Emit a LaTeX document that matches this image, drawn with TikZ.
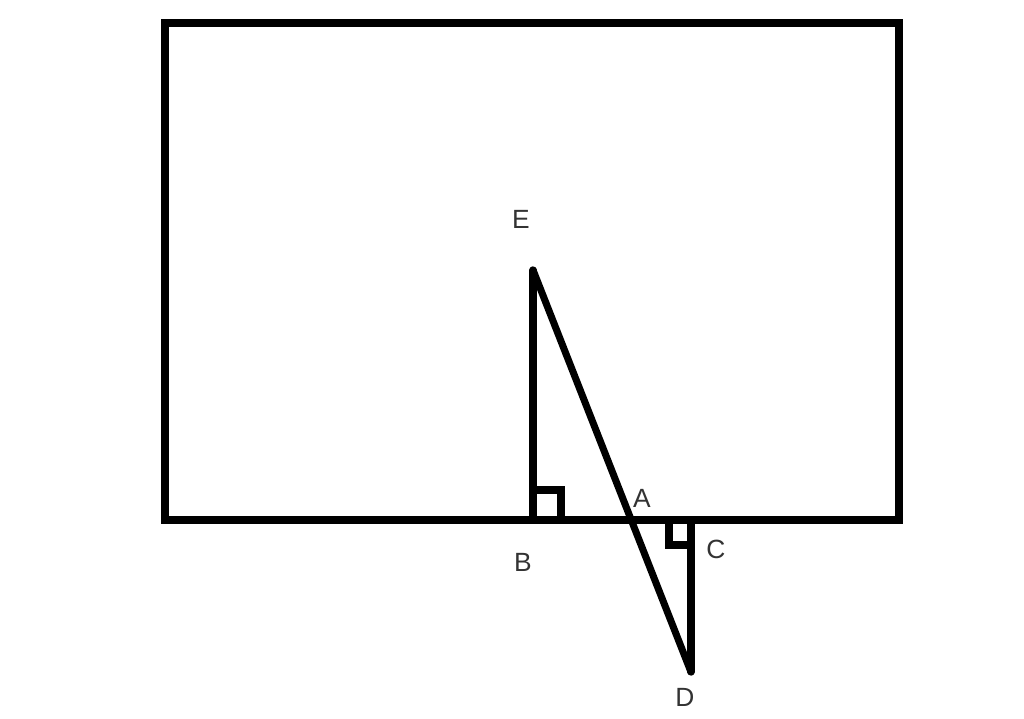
\documentclass[tikz,border=0pt]{standalone}
\usepackage{fontspec}
\setmainfont{Liberation Sans}
\usetikzlibrary{positioning}

\begin{document}
\begin{tikzpicture}[x=0.02cm, y=-0.02cm]


\tikzstyle{line_style} = [draw=black, line width=4pt]
\tikzstyle{label_style} = [font=\fontsize{15}{18}\selectfont, text=black!80, inner sep=0pt]

\useasboundingbox (0,0) rectangle (1024,719);

\draw[line_style, line join=miter] (165,23) rectangle (899,520);

\coordinate (pE) at (533,270);
\coordinate (pB) at (533,520);
\coordinate (pA) at (630.6,520);
\coordinate (pC) at (691,520);
\coordinate (pD) at (691,672);

\node[label_style] (lE) at (521,219) {E};
\node[label_style] (lB) at (523,562) {B};
\node[label_style] (lA) at (642,498) {A};
\node[label_style] (lC) at (716,549) {C};
\node[label_style] (lD) at (685,697) {D};

\draw[line_style, line cap=round]  (pE) -- (pB);
\draw[line_style, line cap=round]  (pE) -- (pD);
\draw[line_style, line cap=round]  (pC) -- (pD);

% right angles
\draw[line_style] (pB) ++(0,0) -- ++(0,-30) -- ++(28,0) -- ++(0,30);
\draw[line_style] (pC) ++(0,0) -- ++(0,25) -- ++(-22,0) -- ++(0,-25);



\end{tikzpicture}
\end{document}
